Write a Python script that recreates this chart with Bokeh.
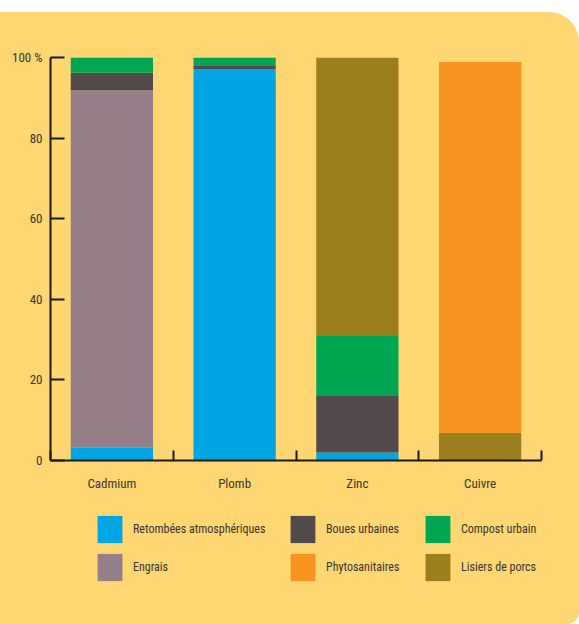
from bokeh.plotting import figure
from bokeh.models import (Range1d, FixedTicker, Legend, LegendItem, Spacer)
from bokeh.layouts import column
from bokeh.embed import file_html
from bokeh.resources import INLINE

# ---- data (percent of inputs) ----
metals = ["Cadmium", "Plomb", "Zinc", "Cuivre"]
sources = ["Retombées atmosphériques", "Engrais", "Boues urbaines",
           "Compost urbain", "Lisiers de porcs", "Phytosanitaires"]
retombees = [3.2, 97.1, 2.0, 0.0]
engrais = [88.7, 0.0, 0.0, 0.0]
boues = [4.3, 1.0, 14.0, 0.0]
compost = [3.8, 1.9, 14.9, 0.0]
lisiers = [0.0, 0.0, 69.1, 6.9]
phyto = [0.0, 0.0, 0.0, 92.0]
colors = ["#00A6E3", "#947E88", "#524A4A", "#00A651", "#9B7E1D", "#F7941F"]
y_ticks = [0, 20, 40, 60, 80, 100]
y_labels = ["0", "20", "40", "60", "80", "100 %"]

FONT = "'Roboto Condensed', 'Liberation Sans Narrow', 'DejaVu Sans Condensed', sans-serif"
TXT = "#3b3431"
AX = "#1c1a19"
BG = "#FED672"
W = 579

xs = [i + 0.5 for i in range(len(metals))]
keys = ["r", "e", "b", "c", "l", "p"]
data = dict(x=xs, r=retombees, e=engrais, b=boues, c=compost, l=lisiers, p=phyto)

p = figure(width=W, height=496, output_backend="svg", toolbar_location=None,
           x_range=Range1d(0, len(metals)), y_range=Range1d(0, 100),
           min_border_left=50, min_border_right=38, min_border_top=45,
           min_border_bottom=48)
p.background_fill_alpha = 0
p.border_fill_alpha = 0
p.outline_line_color = None
p.grid.visible = False

p.vbar_stack(keys, x="x", width=0.67, source=data, color=colors, line_color=None)

# y axis
ya = p.yaxis[0]
ya.ticker = FixedTicker(ticks=y_ticks)
ya.major_label_overrides = {t: l for t, l in zip(y_ticks, y_labels)}
ya.major_tick_in = 14
ya.major_tick_out = 0
ya.minor_tick_in = 0
ya.minor_tick_out = 0
ya.axis_line_width = 2
ya.axis_line_color = AX
ya.major_tick_line_width = 2
ya.major_tick_line_color = AX
ya.major_label_standoff = 8
ya.major_label_text_font = FONT
ya.major_label_text_font_size = "13px"
ya.major_label_text_color = TXT

# x axis: names at band centres, ticks at band boundaries
xa = p.xaxis[0]
xa.ticker = FixedTicker(ticks=xs, minor_ticks=list(range(len(metals) + 1)))
xa.major_label_overrides = {x: m for x, m in zip(xs, metals)}
xa.major_tick_in = 0
xa.major_tick_out = 0
xa.minor_tick_in = 10
xa.minor_tick_out = 0
xa.minor_tick_line_width = 2
xa.minor_tick_line_color = AX
xa.axis_line_width = 2
xa.axis_line_color = AX
xa.major_label_standoff = 15
xa.major_label_text_font = FONT
xa.major_label_text_font_size = "13px"
xa.major_label_text_color = TXT

# ---- legend panel (its bars lie far outside its visible range) ----
q = figure(width=W, height=116, output_backend="svg", toolbar_location=None,
           x_axis_type=None, y_axis_type=None, min_border=0,
           x_range=Range1d(0, len(metals)), y_range=Range1d(1000, 1001))
q.background_fill_alpha = 0
q.border_fill_alpha = 0
q.outline_line_color = None
q.grid.visible = False
lrends = q.vbar_stack(keys, x="x", width=0.67, source=dict(data), color=colors,
                      line_color=None)
by_name = dict(zip(sources, lrends))
cols = [["Retombées atmosphériques", "Engrais"],
        ["Boues urbaines", "Phytosanitaires"],
        ["Compost urbain", "Lisiers de porcs"]]
xoffs = [44, 237, 372]
for names, xo in zip(cols, xoffs):
    lg = Legend(items=[LegendItem(label=n, renderers=[by_name[n]]) for n in names],
                location=(xo, 40), orientation="vertical",
                glyph_width=31, glyph_height=34, spacing=4, padding=0, margin=0,
                label_standoff=8, border_line_color=None, background_fill_alpha=0,
                label_text_font=FONT, label_text_font_size="12px",
                label_text_color=TXT)
    q.add_layout(lg)

panel = column(p, q, spacing=0,
               styles={"background-color": BG, "border-radius": "0 30px 12px 0",
                       "overflow": "hidden"})
layout = column(Spacer(height=12, width=W), panel, spacing=0)
open("out.html", "w").write(file_html(layout, INLINE))
